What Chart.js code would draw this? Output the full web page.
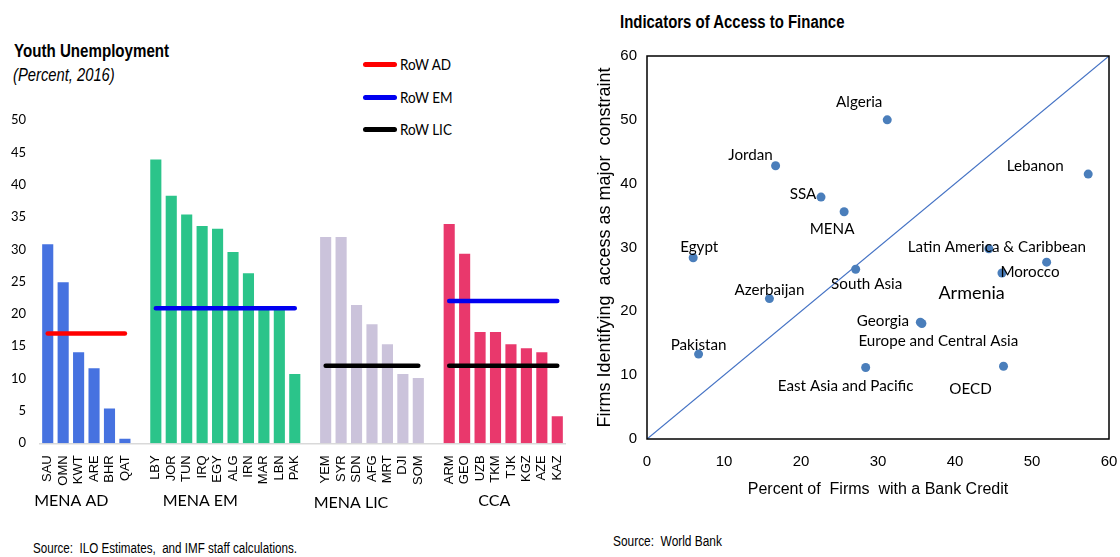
<!DOCTYPE html>
<html><head><meta charset="utf-8">
<script src="https://cdn.jsdelivr.net/npm/chart.js@4"></script>
<style>
html,body{margin:0;padding:0;background:#fff;}
body{width:1120px;height:557px;position:relative;overflow:hidden;font-family:"Liberation Sans",Arial,sans-serif;color:#000;}
.t{position:absolute;white-space:pre;transform-origin:0 50%;line-height:1;}
canvas{position:absolute;}
.leg{position:absolute;height:5px;border-radius:3px;width:34px;left:363px;}
.legt{position:absolute;left:400px;font-family:Lato,sans-serif;font-size:15px;line-height:1;white-space:pre;transform-origin:0 50%;transform:scaleX(0.9);}
</style></head>
<body>
<div class="t" style="left:14px;top:42px;font-size:18px;font-weight:bold;transform:scaleX(0.84);">Youth Unemployment</div>
<div class="t" style="left:13px;top:66px;font-size:18px;font-style:italic;transform:scaleX(0.82);">(Percent, 2016)</div>
<div class="leg" style="top:62px;background:#FF0000;"></div>
<div class="legt" style="top:57px;">RoW AD</div>
<div class="leg" style="top:95px;background:#0000F0;"></div>
<div class="legt" style="top:90px;">RoW EM</div>
<div class="leg" style="top:127px;background:#000000;"></div>
<div class="legt" style="top:122px;">RoW LIC</div>
<div class="t" style="left:620px;top:13px;font-size:18px;font-weight:bold;transform:scaleX(0.83);">Indicators of Access to Finance</div>
<div class="t" style="left:33px;top:541px;font-size:14px;transform:scaleX(0.83);">Source:  ILO Estimates,  and IMF staff calculations.</div>
<div class="t" style="left:613px;top:534px;font-size:14px;transform:scaleX(0.85);">Source:  World Bank</div>
<canvas id="c1" width="580" height="420" style="left:0;top:100px;"></canvas>
<canvas id="c2" width="530" height="463" style="left:590px;top:40px;"></canvas>
<script>
// ---------- Left chart data: Youth unemployment (percent, 2016) ----------
const groupNames = ['MENA AD', 'MENA EM', 'MENA LIC', 'CCA'];
const adCodes = ['SAU', 'OMN', 'KWT', 'ARE', 'BHR', 'QAT'];
const adValues = [30.8, 24.9, 14.1, 11.6, 5.4, 0.7];
const emCodes = ['LBY', 'JOR', 'TUN', 'IRQ', 'EGY', 'ALG', 'IRN', 'MAR', 'LBN', 'PAK'];
const emValues = [43.9, 38.3, 35.4, 33.6, 33.2, 29.6, 26.3, 21.1, 20.7, 10.7];
const licCodes = ['YEM', 'SYR', 'SDN', 'AFG', 'MRT', 'DJI', 'SOM'];
const licValues = [31.9, 31.9, 21.4, 18.4, 15.3, 10.7, 10.1];
const ccaCodes = ['ARM', 'GEO', 'UZB', 'TKM', 'TJK', 'KGZ', 'AZE', 'KAZ'];
const ccaValues = [33.9, 29.3, 17.2, 17.2, 15.3, 14.7, 14.1, 4.2];
const rowADforAD = 17.0;
const rowEMforEM = 20.9;
const rowEMforCCA = 22.0;
const rowLICforLIC = 12.0;
const rowLICforCCA = 12.0;
const leftYTicks = [0, 5, 10, 15, 20, 25, 30, 35, 40, 45, 50];
const legendNames = ['RoW AD', 'RoW EM', 'RoW LIC'];

// ---------- Right chart data: Indicators of access to finance ----------
const scatterNames = ['Algeria', 'Jordan', 'SSA', 'MENA', 'Lebanon', 'Egypt',
  'Latin America & Caribbean', 'Morocco', 'Armenia', 'South Asia', 'Azerbaijan',
  'Georgia', 'Europe and Central Asia', 'Pakistan', 'East Asia and Pacific', 'OECD'];
const bankCredit = [31.2, 16.7, 22.6, 25.6, 57.3, 6.0, 44.4, 46.1, 51.9, 27.1, 15.9, 35.7, 35.5, 6.7, 28.4, 46.3];
const accessConstraint = [50.0, 42.8, 37.9, 35.6, 41.5, 28.4, 29.8, 26.0, 27.7, 26.6, 22.0, 18.1, 18.3, 13.3, 11.2, 11.4];
const diagonalEnds = [0, 60];
const rightTicks = [0, 10, 20, 30, 40, 50, 60];

// ---------- build left chart ----------
const groupCodes = [adCodes, emCodes, licCodes, ccaCodes];
const groupValues = [adValues, emValues, licValues, ccaValues];
const labels = [];
const ranges = [];
groupCodes.forEach((codes, gi) => {
  if (gi > 0) labels.push('');
  const start = labels.length;
  codes.forEach(c => labels.push(c));
  ranges.push({start, end: labels.length - 1});
});
const N = labels.length;
function padded(gi, vals) {
  const arr = new Array(N).fill(null);
  vals.forEach((v, i) => { arr[ranges[gi].start + i] = v; });
  return arr;
}
function flat(entries) {
  const arr = new Array(N).fill(null);
  entries.forEach(([gi, v]) => { for (let i = ranges[gi].start; i <= ranges[gi].end; i++) arr[i] = v; });
  return arr;
}
const barColors = ['#4672E0', '#2BC48A', '#CBC3DB', '#E9386C'];
const barSets = groupValues.map((vals, gi) => ({
  type: 'bar', label: groupNames[gi], data: padded(gi, vals),
  backgroundColor: barColors[gi], order: 2, grouped: false,
  categoryPercentage: 1, barPercentage: 0.72
}));
const lineStyle = {type: 'line', borderWidth: 4.5, borderCapStyle: 'round', pointRadius: 0,
  pointHoverRadius: 0, fill: false, spanGaps: false, order: 1};
const lineSets = [
  Object.assign({}, lineStyle, {label: legendNames[0], data: flat([[0, rowADforAD]]), borderColor: '#FF0000'}),
  Object.assign({}, lineStyle, {label: legendNames[1], data: flat([[1, rowEMforEM], [3, rowEMforCCA]]), borderColor: '#0000F0'}),
  Object.assign({}, lineStyle, {label: legendNames[2], data: flat([[2, rowLICforLIC], [3, rowLICforCCA]]), borderColor: '#000000'})
];

const groupLabelStyle = {shift: [-15, -25, -21, -9], y: [401, 401, 403, 401]};
const groupLabelPlugin = {
  id: 'groupLabels',
  afterDraw(chart) {
    const ctx = chart.ctx, xs = chart.scales.x;
    ctx.save();
    ctx.font = '16px Lato, sans-serif';
    ctx.fillStyle = '#000';
    ctx.textAlign = 'center';
    ctx.textBaseline = 'middle';
    ranges.forEach((r, i) => {
      const x = (xs.getPixelForValue(r.start) + xs.getPixelForValue(r.end)) / 2 + groupLabelStyle.shift[i];
      ctx.fillText(groupNames[i], x, groupLabelStyle.y[i]);
    });
    ctx.restore();
  }
};

new Chart(document.getElementById('c1'), {
  type: 'bar',
  data: {labels, datasets: [...lineSets, ...barSets]},
  options: {
    responsive: false, animation: false,
    layout: {padding: {top: 20, right: 15, left: 0, bottom: 0}},
    plugins: {legend: {display: false}, tooltip: {enabled: false}},
    scales: {
      x: {
        grid: {display: false, drawTicks: true, tickLength: 10},
        border: {display: true, color: '#D9D9D9', width: 1.5},
        ticks: {autoSkip: false, minRotation: 90, maxRotation: 90, padding: 2, color: '#000',
          font: {family: '"Liberation Sans", Arial, sans-serif', size: 13}},
        afterFit: s => { s.height = 76.7; }
      },
      y: {
        min: 0, max: 50,
        afterBuildTicks: s => { s.ticks = leftYTicks.map(v => ({value: v})); },
        grid: {display: false, drawTicks: true, tickLength: 12},
        border: {display: false},
        ticks: {padding: 2, color: '#000', font: {family: 'Lato, sans-serif', size: 13}},
        afterFit: s => { s.width = 40; }
      }
    }
  },
  plugins: [groupLabelPlugin]
});

// ---------- build right chart ----------
const labelStyle = {
  dx: [-28, -25, -18, -12, -53, 6, 8, 28, -75, 11, 0, -39, 18, 0, -20, -33],
  dy: [-18, -11, -3, 17, -8, -11, -2, -1, 31, 15, -8, -2, 19, -9, 19, 23],
  big: [false, false, false, false, false, false, false, false, true, false, false, false, false, false, false, false]
};
const pointLabelPlugin = {
  id: 'pointLabels',
  afterDatasetsDraw(chart) {
    const meta = chart.getDatasetMeta(0);
    const ctx = chart.ctx;
    ctx.save();
    ctx.fillStyle = '#000';
    ctx.textAlign = 'center';
    ctx.textBaseline = 'middle';
    meta.data.forEach((el, i) => {
      ctx.font = (labelStyle.big[i] ? '18px' : '15.2px') + ' Lato, sans-serif';
      ctx.fillText(scatterNames[i], el.x + labelStyle.dx[i], el.y + labelStyle.dy[i]);
    });
    ctx.restore();
  }
};
const framePlugin = {
  id: 'frame',
  afterDraw(chart) {
    const a = chart.chartArea, ctx = chart.ctx;
    ctx.save();
    ctx.strokeStyle = '#000';
    ctx.lineWidth = 1.5;
    ctx.strokeRect(a.left, a.top, a.right - a.left, a.bottom - a.top);
    ctx.restore();
  }
};

new Chart(document.getElementById('c2'), {
  type: 'scatter',
  data: {
    datasets: [
      {type: 'scatter', label: 'Economies',
        data: scatterNames.map((n, i) => ({x: bankCredit[i], y: accessConstraint[i]})),
        backgroundColor: '#4A7EBB', borderWidth: 0, pointRadius: 4.5, pointHoverRadius: 4.5, order: 0},
      {type: 'line', label: '45-degree line',
        data: diagonalEnds.map(v => ({x: v, y: v})),
        borderColor: '#4472C4', borderWidth: 1.2, pointRadius: 0, fill: false, order: 1}
    ]
  },
  options: {
    responsive: false, animation: false,
    layout: {padding: {top: 16, right: 11, left: 0, bottom: 0}},
    plugins: {legend: {display: false}, tooltip: {enabled: false}},
    scales: {
      x: {
        type: 'linear', min: 0, max: 60,
        afterBuildTicks: s => { s.ticks = rightTicks.map(v => ({value: v})); },
        grid: {display: false, drawTicks: true, tickLength: 12},
        border: {display: false},
        ticks: {padding: 2, color: '#000', font: {family: '"Liberation Sans", Arial, sans-serif', size: 15}},
        title: {display: true, text: 'Percent of  Firms  with a Bank Credit', color: '#000',
          font: {family: '"Liberation Sans", Arial, sans-serif', size: 16}, padding: {top: 4, bottom: 4}},
        afterFit: s => { s.height = 64; }
      },
      y: {
        type: 'linear', min: 0, max: 60,
        afterBuildTicks: s => { s.ticks = rightTicks.map(v => ({value: v})); },
        grid: {display: false, drawTicks: true, tickLength: 8},
        border: {display: false},
        ticks: {padding: 2, color: '#000', font: {family: '"Liberation Sans", Arial, sans-serif', size: 15}},
        title: {display: true, text: 'Firms Identifying  access as major  constraint', color: '#000',
          font: {family: '"Liberation Sans", Arial, sans-serif', size: 18}, padding: {top: 4, bottom: 4}},
        afterFit: s => { s.width = 57; }
      }
    }
  },
  plugins: [pointLabelPlugin, framePlugin]
});
</script>
</body></html>
